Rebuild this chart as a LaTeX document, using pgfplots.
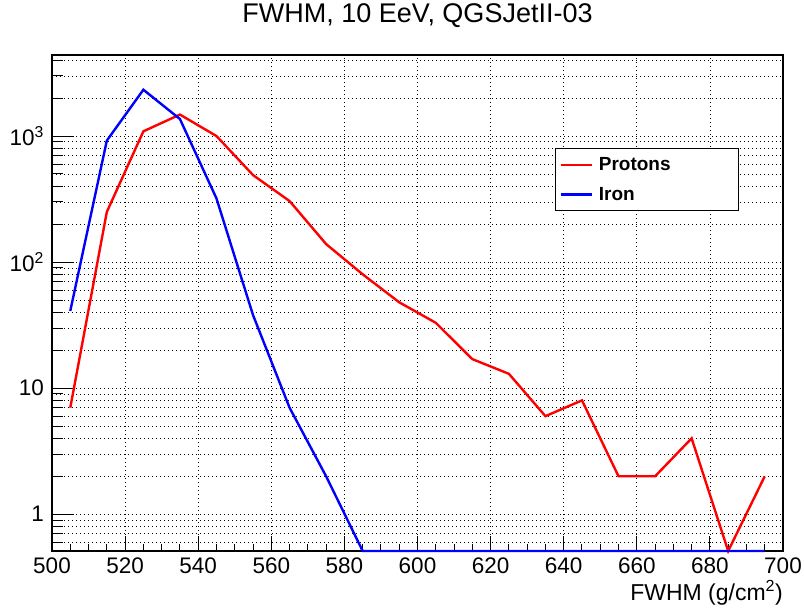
\documentclass[border=0pt]{standalone}
\usepackage{pgfplots}
\pgfplotsset{compat=1.18}
\usepackage{fontspec}
\setmainfont{Liberation Sans}
\pgfplotstableread{
x y
505 7
515 250
525 1090
535 1480
545 1000
555 490
565 305
575 139
585 80
595 48
605 33
615 17
625 13
635 6
645 8
655 2
665 2
675 4
685 0.511
695 2
}\protons
\pgfplotstableread{
x y
505 41
515 920
525 2330
535 1365
545 320
555 38
565 7
575 2
585 0.511
595 0.511
605 0.511
615 0.511
625 0.511
635 0.511
645 0.511
655 0.511
665 0.511
675 0.511
685 0.511
695 0.511
}\iron
\begin{document}
\begin{tikzpicture}
\useasboundingbox (0,0) rectangle (804bp,614bp);
\begin{axis}[
  at={(52bp,63bp)}, anchor=south west,
  scale only axis, width=731bp, height=496bp,
  xmin=500, xmax=700, ymode=log, ymin=0.511, ymax=4395,
  xtick={500,520,...,700}, minor xtick={505,510,...,695},
  ytick={1,10,100,1000},
  yticklabels={1,10,10\textsuperscript{2},10\textsuperscript{3}},
  minor ytick={0.6,0.7,0.8,0.9,2,3,4,5,6,7,8,9,20,30,40,50,60,70,80,90,200,300,400,500,600,700,800,900,2000,3000,4000},
  tick pos=left, tick align=inside,
  xmajorgrids, ymajorgrids, yminorgrids,
  grid style={black, line width=0.7bp, dash pattern=on 1bp off 3bp},
  major grid style={black, line width=0.7bp, dash pattern=on 1bp off 3bp},
  minor grid style={black, line width=0.7bp, dash pattern=on 1bp off 3bp},
  xtick style={black, line width=1bp, /pgfplots/major tick length=15bp, /pgfplots/minor tick length=7bp},
  ytick style={black, line width=1bp, /pgfplots/major tick length=22bp, /pgfplots/minor tick length=11bp},
  axis line style={line width=1.3bp},
  /pgf/number format/assume math mode=true,
  ticklabel style={font=\fontsize{22.5bp}{26bp}\selectfont},
  xticklabel style={anchor=base, yshift=-22bp},
  yticklabel style={anchor=east, inner xsep=0pt, xshift=-8bp},
  title={FWHM, 10 EeV, QGSJetII-03},
  title style={at={(axis description cs:0.5,1)}, anchor=base, yshift=27bp, font=\fontsize{27bp}{30bp}\selectfont},
  xlabel={FWHM (g/cm\textsuperscript{2})},
  xlabel style={at={(axis description cs:1,0)}, anchor=base east, yshift=-49bp, inner sep=0pt, font=\fontsize{23bp}{26bp}\selectfont},
  clip=false,
  legend cell align=left,
  legend image code/.code={\draw[#1] (0bp,0bp) -- (31bp,0bp);},
  legend style={at={(0.688,0.8125)}, anchor=north west, draw=black, line width=1bp, fill=white,
    font=\bfseries\fontsize{19bp}{22bp}\selectfont, inner xsep=4bp, inner ysep=7bp, row sep=11bp},
]
\addplot[red, line width=2.4bp] table[x=x,y=y] {\protons};
\addlegendentry{\makebox[138bp][l]{\hspace*{4bp}Protons}}
\addplot[blue, line width=2.4bp] table[x=x,y=y] {\iron};
\addlegendentry{\makebox[138bp][l]{\hspace*{4bp}Iron}}
\end{axis}
\end{tikzpicture}
\end{document}
